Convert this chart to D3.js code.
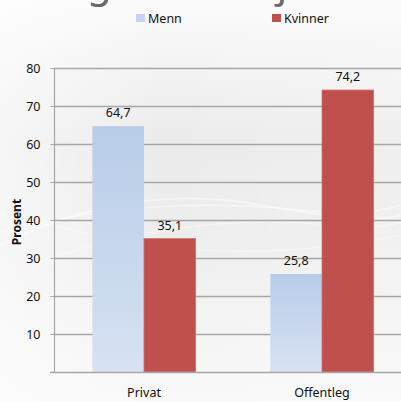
<!DOCTYPE html>
<html>
<head>
<meta charset="utf-8">
<script src="https://cdn.jsdelivr.net/npm/d3@7/dist/d3.min.js"></script>
<style>
  html, body { margin: 0; padding: 0; background: #fff; }
  svg { display: block; }
  text { font-family: "Noto Sans", "Open Sans", sans-serif; fill: #111; }
</style>
</head>
<body>
<svg id="chart" width="401" height="402"></svg>
<script>
// Share of employees by sector and gender (percent)
const categories = ["Privat", "Offentleg"];
const seriesNames = ["Menn", "Kvinner"];
const menn = [64.7, 25.8];
const kvinner = [35.1, 74.2];
const yTicks = [10, 20, 30, 40, 50, 60, 70, 80];
const titleText = "Fordeling etter kjønn";

const svg = d3.select("#chart");
const W = 401, H = 402;
const plotBottom = 372;

const defs = svg.append("defs");

// background: soft grey wash
const bg = defs.append("linearGradient").attr("id", "bg")
  .attr("x1", 0).attr("y1", 0).attr("x2", 0).attr("y2", 1);
bg.append("stop").attr("offset", "0%").attr("stop-color", "#fbfbfb");
bg.append("stop").attr("offset", "35%").attr("stop-color", "#ebebec");
bg.append("stop").attr("offset", "60%").attr("stop-color", "#eeeeef");
bg.append("stop").attr("offset", "100%").attr("stop-color", "#f9f9f9");
svg.append("rect").attr("width", W).attr("height", H).attr("fill", "url(#bg)");

const bgSide = defs.append("linearGradient").attr("id", "bgSide")
  .attr("x1", 0).attr("y1", 0).attr("x2", 1).attr("y2", 0);
bgSide.append("stop").attr("offset", "0%").attr("stop-color", "#ffffff").attr("stop-opacity", 0.55);
bgSide.append("stop").attr("offset", "40%").attr("stop-color", "#ffffff").attr("stop-opacity", 0);
bgSide.append("stop").attr("offset", "100%").attr("stop-color", "#ffffff").attr("stop-opacity", 0.2);
svg.append("rect").attr("width", W).attr("height", H).attr("fill", "url(#bgSide)");

// faint swooshes across the middle
const swoosh = svg.append("g").attr("fill", "none").attr("stroke", "#ffffff").attr("stroke-opacity", 0.45);
[
  "M0,245 C90,200 180,190 260,205 C320,215 370,225 401,215",
  "M0,232 C110,205 200,200 300,210 C350,215 380,212 401,205",
  "M20,270 C120,230 230,215 330,225 C370,229 390,226 401,222",
  "M0,215 C60,225 120,245 200,250 C280,255 350,245 401,235"
].forEach((d, i) => swoosh.append("path").attr("d", d).attr("stroke-width", 1.8 - i * 0.3));

// title (mostly above the visible area)
svg.append("text")
  .attr("x", -95).attr("y", -3)
  .attr("font-size", 40)
  .attr("letter-spacing", 3.6)
  .style("fill", "#6a6a6a")
  .text(titleText);

// scales
const x0 = d3.scaleBand().domain(categories).range([55, 411]).paddingInner(0.42).paddingOuter(0.21);
const x1 = d3.scaleBand().domain(seriesNames).range([0, x0.bandwidth()]);
const y = d3.scaleLinear().domain([0, 80]).range([plotBottom, 68]);

// gridlines
svg.append("g").selectAll("line").data(yTicks).join("line")
  .attr("x1", 54).attr("x2", W)
  .attr("y1", d => Math.round(y(d)) + 0.5).attr("y2", d => Math.round(y(d)) + 0.5)
  .attr("stroke", "#a6a6a6").attr("stroke-width", 1.3);

// bar fills
const gMenn = defs.append("linearGradient").attr("id", "gMenn")
  .attr("x1", 0).attr("y1", 0).attr("x2", 0).attr("y2", 1);
gMenn.append("stop").attr("offset", "0%").attr("stop-color", "#b8cce8");
gMenn.append("stop").attr("offset", "100%").attr("stop-color", "#d7e2f3");
const fills = { Menn: "url(#gMenn)", Kvinner: "#c0504d" };

const rows = categories.map((c, i) => ({ cat: c, values: [
  { s: "Menn", v: menn[i] }, { s: "Kvinner", v: kvinner[i] }
]}));

const groups = svg.append("g").selectAll("g").data(rows).join("g")
  .attr("transform", d => `translate(${x0(d.cat)},0)`);

groups.selectAll("rect").data(d => d.values).join("rect")
  .attr("x", d => x1(d.s))
  .attr("y", d => y(d.v))
  .attr("width", x1.bandwidth())
  .attr("height", d => plotBottom - y(d.v))
  .attr("fill", d => fills[d.s])
  .attr("stroke", d => d.s === "Kvinner" ? "#d0706d" : "none")
  .attr("stroke-width", 0.8);

groups.selectAll("text.val").data(d => d.values).join("text")
  .attr("class", "val")
  .attr("x", d => x1(d.s) + x1.bandwidth() / 2)
  .attr("y", d => y(d.v) - 9)
  .attr("text-anchor", "middle")
  .attr("font-size", 12.5)
  .text(d => d3.format(".1f")(d.v).replace(".", ","));

// y axis
const yAxis = d3.axisLeft(y).tickValues(yTicks).tickSize(4).tickPadding(10).tickFormat(d3.format("d"));
const ax = svg.append("g").attr("transform", "translate(54.5,0)").call(yAxis);
ax.select(".domain").attr("stroke", "#a6a6a6").attr("stroke-width", 1.2).attr("d", `M0,${y(80)}V${plotBottom}`);
ax.selectAll(".tick line").attr("stroke", "#a6a6a6");
ax.selectAll(".tick text").attr("font-size", 12.5).style("fill", "#111")
  .style("font-family", "'Noto Sans', sans-serif");

// baseline
svg.append("line").attr("x1", 50).attr("x2", W)
  .attr("y1", plotBottom + 0.5).attr("y2", plotBottom + 0.5)
  .attr("stroke", "#a6a6a6").attr("stroke-width", 1.3);

// x category labels
const xAxis = d3.axisBottom(x0).tickSize(0).tickPadding(16);
const xa = svg.append("g").attr("transform", `translate(0,${plotBottom})`).call(xAxis);
xa.select(".domain").remove();
xa.selectAll(".tick text").attr("font-size", 12.5).style("fill", "#111")
  .style("font-family", "'Noto Sans', sans-serif");

// y axis title
svg.append("text")
  .attr("transform", `translate(21,222) rotate(-90)`)
  .attr("text-anchor", "middle")
  .attr("font-size", 12)
  .attr("font-weight", "bold")
  .text("Prosent");

// legend
const legendX = { Menn: 136, Kvinner: 272 };
const lg = svg.append("g").selectAll("g").data(seriesNames).join("g")
  .attr("transform", d => `translate(${legendX[d]},14)`);
lg.append("rect").attr("width", 9).attr("height", 8).attr("fill", d => d === "Menn" ? "#c3d4ec" : "#c0504d");
lg.append("text").attr("x", 12).attr("y", 8.5).attr("font-size", 12.5).text(d => d);
</script>
</body>
</html>
